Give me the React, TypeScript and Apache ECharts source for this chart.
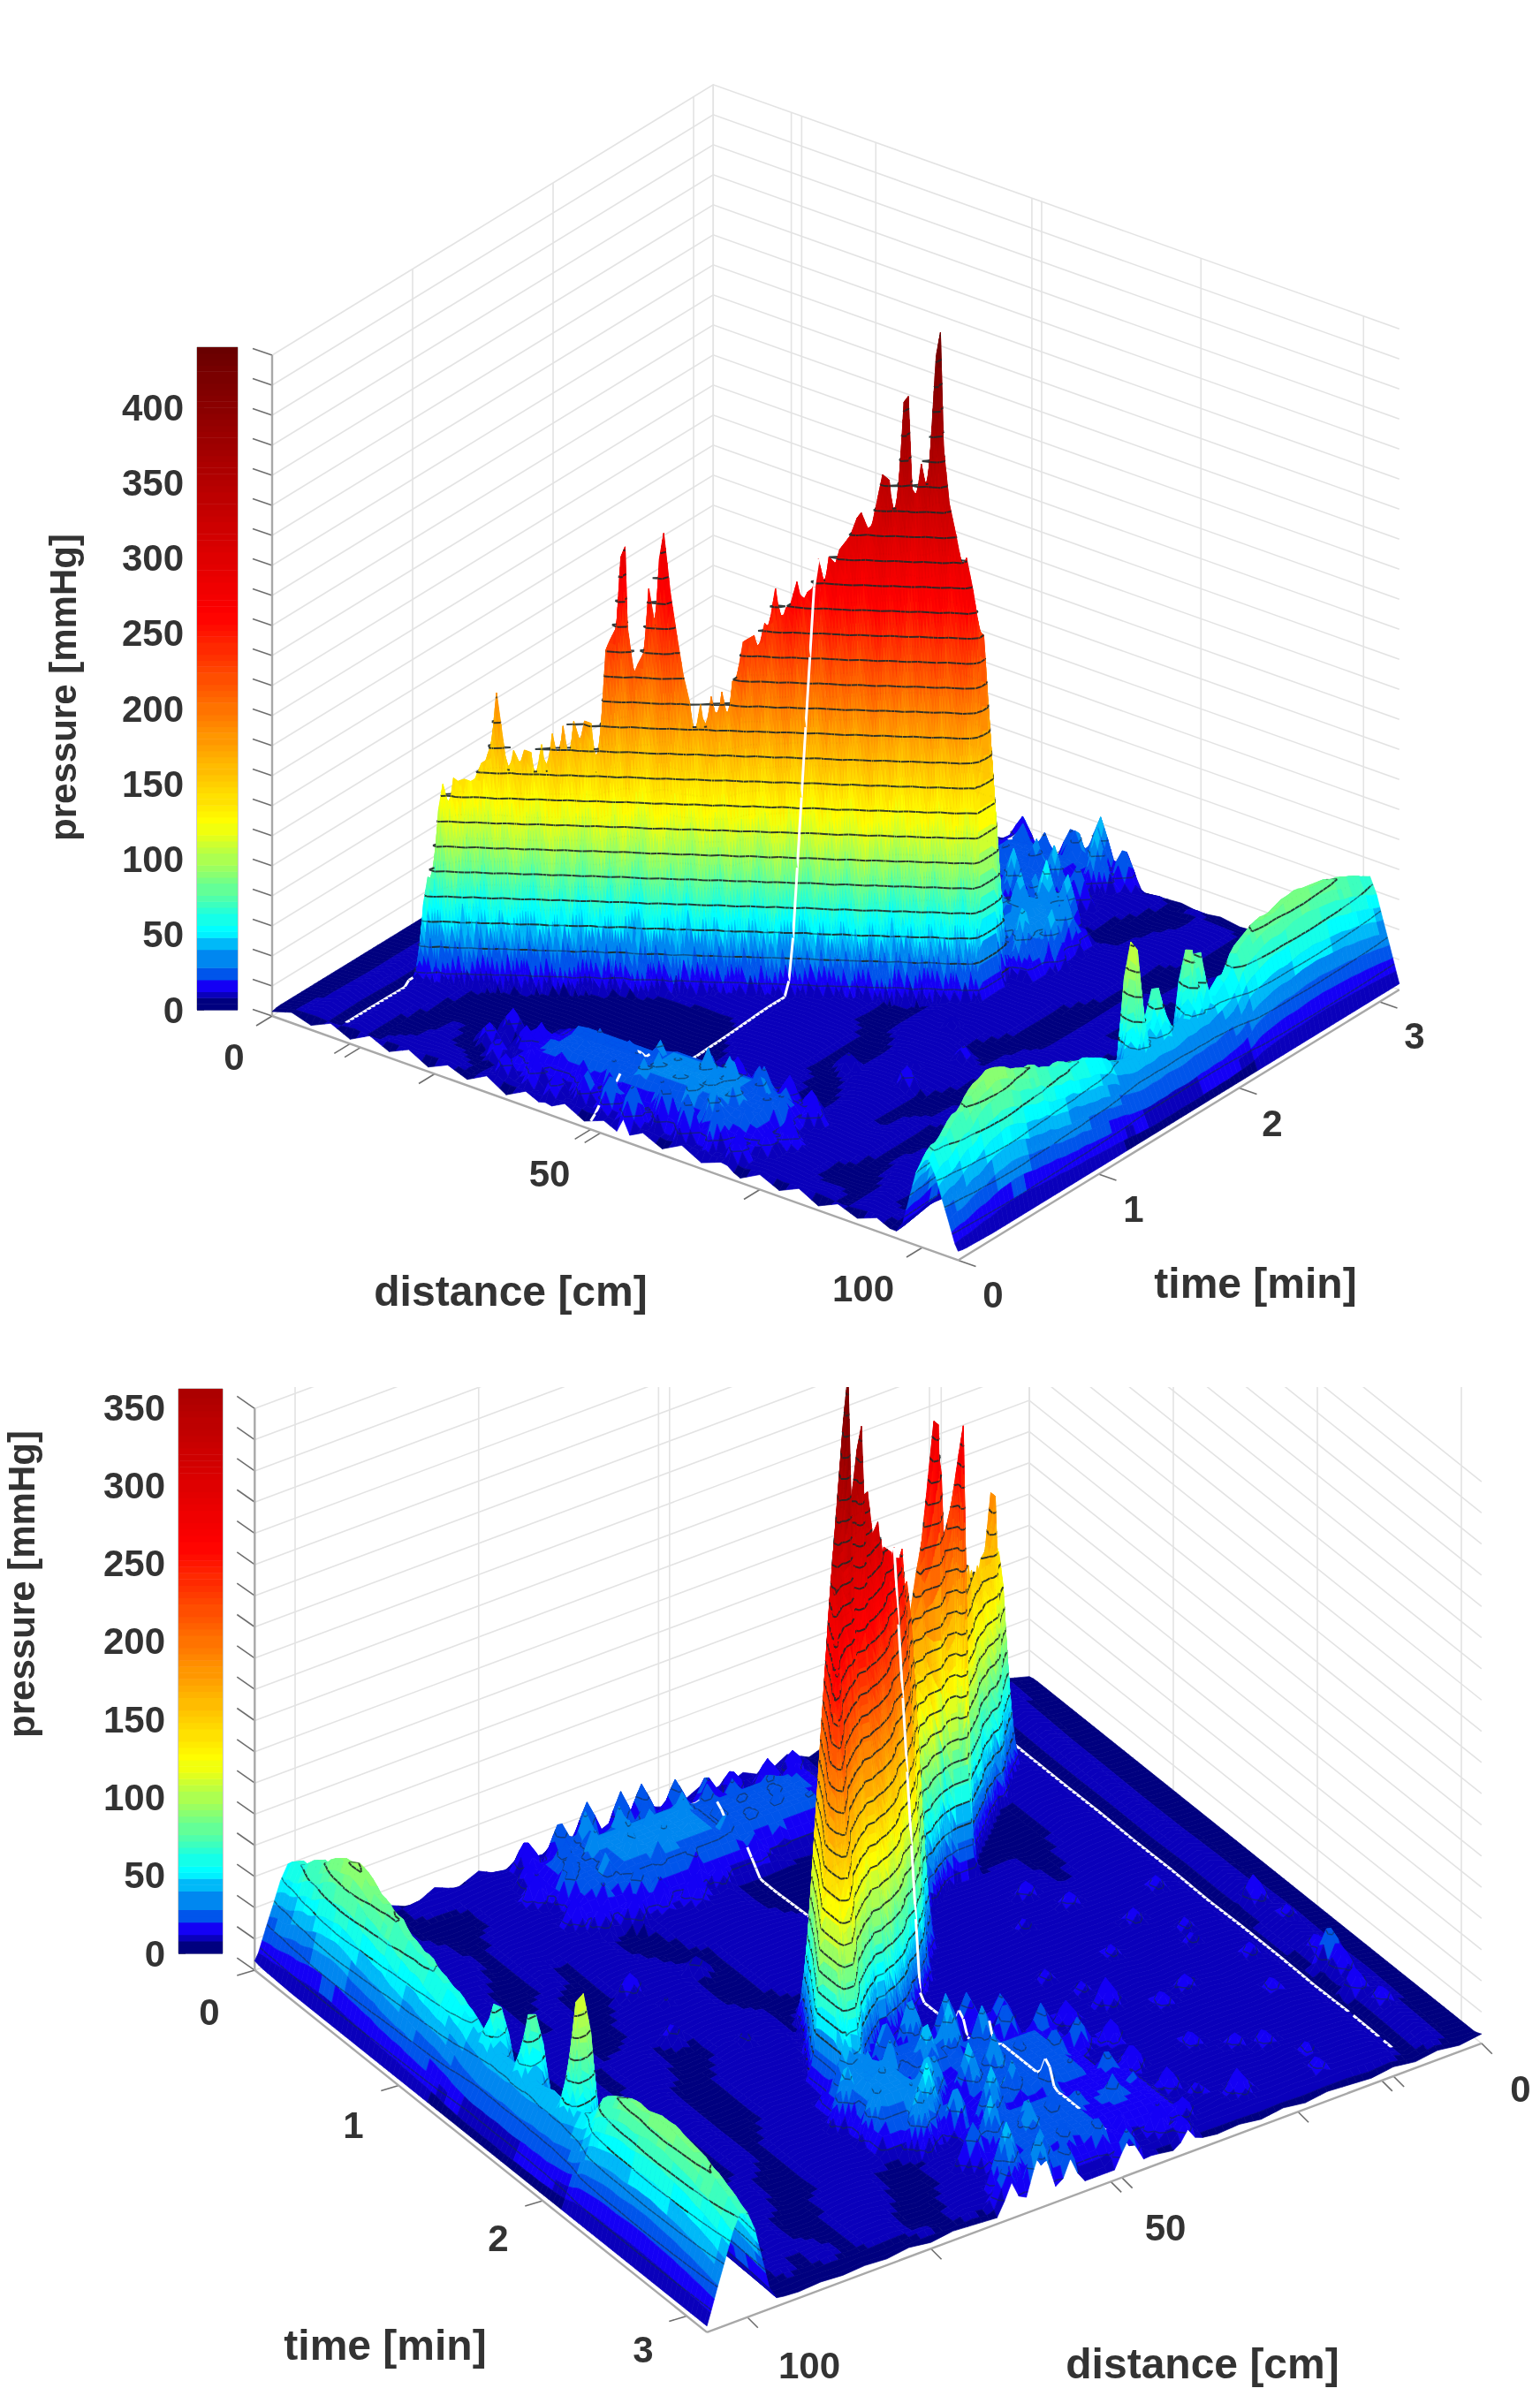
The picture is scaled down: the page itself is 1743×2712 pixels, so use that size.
import React, { useEffect, useRef } from "react";
import * as echarts from "echarts";

// ---------- values ----------
const distanceEnd = 105.5;
const timeEnd = 3.14;
const zTickStep = 20;
const distanceTicks = [0, 12, 13.6, 25, 49, 50.5, 75, 100];
const timeTicks = [0, 1, 2, 3];
const sensorDistances = [10, 49];
const sensorFromTime = [0.06, 0];
const sensorToTime = [3.02, 3.03];
const sensorGapsNear = [[2.74, 2.77], [2.93, 2.96]];
const sensorGapsFar = [[0.05, 0.15], [0.2, 0.33], [0.42, 0.55], [2.86, 2.97]];

// main contraction wall: one value per cm from wallFirstDistance
const wallFirstDistance = 10;
const wallPeak = [10, 75, 135, 139, 138, 138, 150, 195, 165, 158, 158, 158, 163, 170, 175, 178, 178, 178, 230, 290, 240, 215, 265, 300, 262, 235, 210, 193, 192, 197, 200, 207, 233, 237, 245, 268, 255, 272, 265, 287, 288, 293, 302, 317, 308, 342, 340, 392, 335, 350, 434, 365, 325, 306, 290, 270, 244, 130, 30];
const wallFootFront = [0.51, 0.53, 0.55, 0.58, 0.6, 0.62, 0.65, 0.67, 0.69, 0.72, 0.74, 0.76, 0.79, 0.81, 0.83, 0.86, 0.88, 0.9, 0.93, 0.95, 0.97, 1, 1.02, 1.04, 1.06, 1.09, 1.11, 1.13, 1.16, 1.18, 1.2, 1.23, 1.25, 1.27, 1.3, 1.32, 1.34, 1.37, 1.39, 1.41, 1.44, 1.46, 1.48, 1.5, 1.53, 1.55, 1.57, 1.6, 1.62, 1.64, 1.67, 1.69, 1.71, 1.74, 1.76, 1.78, 1.81, 1.83, 1.85];
const wallFootRear = [0.24, 0.265, 0.29, 0.33, 0.36, 0.4, 0.43, 0.47, 0.5, 0.52, 0.55, 0.57, 0.6, 0.63, 0.66, 0.69, 0.72, 0.75, 0.78, 0.81, 0.81, 0.82, 0.82, 0.82, 0.85, 0.88, 0.91, 0.93, 0.97, 1, 1.04, 1.07, 1.11, 1.14, 1.18, 1.21, 1.25, 1.29, 1.32, 1.36, 1.38, 1.39, 1.41, 1.42, 1.43, 1.44, 1.45, 1.46, 1.47, 1.49, 1.5, 1.54, 1.58, 1.65, 1.72, 1.78, 1.84, 1.9, 1.95];
const wallThickness = [0.06, 0.14, 0.2, 0.23, 0.23, 0.23, 0.23, 0.24, 0.24, 0.23, 0.23, 0.23, 0.23, 0.24, 0.24, 0.24, 0.24, 0.24, 0.25, 0.29, 0.29, 0.28, 0.29, 0.3, 0.29, 0.28, 0.28, 0.27, 0.27, 0.28, 0.28, 0.33, 0.35, 0.35, 0.36, 0.37, 0.39, 0.39, 0.39, 0.39, 0.39, 0.4, 0.42, 0.44, 0.45, 0.46, 0.46, 0.47, 0.46, 0.47, 0.48, 0.47, 0.46, 0.42, 0.4, 0.38, 0.36, 0.3, 0.2];
const wallSkirt = [0.05, 0.04, 0.06, 0.05, 0.06, 0.05, 0.06, 0.065, 0.05, 0.065, 0.055, 0.05, 0.06, 0.06, 0.05, 0.065, 0.055, 0.06, 0.05, 0.045, 0.06, 0.05, 0.045, 0.065, 0.055, 0.06, 0.05, 0.065, 0.055, 0.06, 0.05, 0.06, 0.065, 0.05, 0.06, 0.055, 0.05, 0.065, 0.06, 0.05, 0.06, 0.055, 0.065, 0.05, 0.06, 0.06, 0.05, 0.065, 0.055, 0.06, 0.05, 0.06, 0.065, 0.055, 0.05, 0.06, 0.06, 0.055, 0.04];
const wallStreak = [0, 6, -5, 3, 7, -4, 2, -7, 5, -2, 7, 1, -6, 4, 8, -3, 5, -8, 4, 6, -6, 8, -2, -9, 5, 7, -4, 3, -7, 6, 1, -5, 7, -3, 5, -8, 2, 8, -5, 3, -7, 7, -2, 5, -6, 3, 8, -4, 6, -8, 4, -3, 7, -5, 2, 6, -6, 4, 0];
const wallRiseSlope = 1500;
const crestRows = 0.03;

// ridge near the far end of the distance axis
const ridgeTimes = [0, 0.05, 0.1, 0.15, 0.2, 0.25, 0.3, 0.35, 0.4, 0.45, 0.5, 0.55, 0.6, 0.65, 0.7, 0.75, 0.8, 0.85, 0.9, 0.95, 1, 1.05, 1.1, 1.15, 1.2, 1.25, 1.3, 1.35, 1.4, 1.45, 1.5, 1.55, 1.6, 1.65, 1.7, 1.75, 1.8, 1.85, 1.9, 1.95, 2, 2.05, 2.1, 2.15, 2.2, 2.25, 2.3, 2.35, 2.4, 2.45, 2.5, 2.55, 2.6, 2.65, 2.7, 2.75, 2.8, 2.85, 2.9, 2.95, 3, 3.05, 3.1, 3.15];
const ridgePressure = [60, 66, 66, 72, 78, 78, 85, 90, 91, 94, 93, 90, 85, 84, 80, 80, 74, 73, 70, 71, 66, 65, 62, 62, 58, 56, 50, 48, 45, 44, 45, 44, 46, 45, 44, 45, 47, 46, 48, 47, 50, 52, 55, 62, 74, 77, 80, 83, 84, 83, 85, 87, 87, 88, 86, 85, 84, 83, 80, 79, 76, 74, 70, 68];
const ridgeSpikeTimeFront = [1.53, 1.68, 1.92, 1.98, 2.1, 2.28];
const ridgeSpikePressureFront = [123, 83, 96, 90, 62, 68];
const ridgeSpikeWidthFront = [0.04, 0.08, 0.04, 0.04, 0.07, 0.06];
const ridgeSpikeTimeRear = [1.38, 1.62, 1.95];
const ridgeSpikePressureRear = [76, 89, 127];
const ridgeSpikeWidthRear = [0.06, 0.06, 0.06];
const ridgeDistance = [94, 95, 96, 97, 98, 99, 100, 101, 102, 103, 104, 105, 105.5];
const ridgeShare = [0, 0.03, 0.08, 0.2, 0.5, 0.8, 0.98, 1, 0.85, 0.62, 0.4, 0.17, 0.03];
const ridgeSpikeDistance = [96, 97, 98, 99, 100, 101, 102];
const ridgeSpikeShare = [0, 0.35, 0.85, 1, 0.85, 0.3, 0];

// small peaks on the floor
const lumpDistance = [
  34, 38, 42, 46, 50, 54, 58, 62, 66, 70,
  30, 36, 40, 44, 48, 52, 56, 60, 64, 68, 72,
  27, 32, 37, 41, 45, 49, 53, 57, 61, 65, 69, 73,
  28, 33, 38, 42, 46, 50, 54, 58, 62, 66, 70,
  44, 48, 52, 56, 60, 64, 68, 72,
  54, 58, 62, 66, 70,
  44, 48, 52, 56, 60,
  38, 42, 46, 50, 54, 58, 62,
  36, 40, 44, 48, 52, 56, 60, 63,
  37, 41, 45, 49, 53, 57, 61,
  36, 40, 44, 48, 52, 56, 60, 63,
  38, 42, 46, 50, 54, 58, 62,
  40, 48, 56, 60, 64,
  65, 66, 67, 65, 67, 68, 70, 62, 64, 69, 66,
  6, 5, 6, 6, 7, 30, 32, 27, 25, 75, 73, 35,
  14, 17, 20, 23, 26, 29, 19, 15, 22, 33, 13, 16, 31, 27, 24, 6, 6, 6, 34, 20, 70, 76, 66,
];
const lumpTime = [
  0.09, 0.12, 0.08, 0.11, 0.1, 0.07, 0.12, 0.09, 0.11, 0.08,
  0.22, 0.19, 0.23, 0.18, 0.21, 0.24, 0.19, 0.22, 0.18, 0.23, 0.2,
  0.3, 0.33, 0.28, 0.32, 0.29, 0.34, 0.3, 0.27, 0.32, 0.29, 0.33, 0.3,
  0.42, 0.38, 0.43, 0.39, 0.41, 0.44, 0.38, 0.42, 0.4, 0.43, 0.39,
  0.5, 0.53, 0.49, 0.52, 0.48, 0.54, 0.5, 0.52,
  0.6, 0.63, 0.59, 0.62, 0.6,
  2.05, 2.02, 2.07, 2.03, 2.06,
  2.2, 2.23, 2.18, 2.22, 2.19, 2.24, 2.2,
  2.4, 2.37, 2.42, 2.38, 2.41, 2.44, 2.39, 2.42,
  2.6, 2.63, 2.58, 2.62, 2.59, 2.64, 2.6,
  2.8, 2.77, 2.82, 2.78, 2.81, 2.84, 2.79, 2.82,
  3, 3.03, 2.98, 3.02, 2.99, 3.04, 3,
  3.1, 3.12, 3.1, 3.12, 3.1,
  2.2, 2.35, 2.22, 2.5, 2.45, 2.2, 2.3, 2.45, 2.55, 2.45, 2.6,
  1.87, 2.05, 2.39, 2.47, 2.62, 2.98, 2.17, 2.3, 2.7, 1.05, 1.2, 1.9,
  1.6, 2, 1.75, 2.25, 1.9, 2.6, 2.9, 2.45, 2.75, 2.05, 2.2, 1.9, 1.55, 1.35, 1.5, 2.3, 1.9, 2.75, 2.9, 3.02, 1.6, 1.4, 1.05,
];
const lumpPressure = [
  22, 26, 24, 30, 34, 36, 40, 38, 36, 28,
  20, 26, 30, 28, 34, 38, 36, 44, 42, 34, 26,
  20, 24, 28, 32, 30, 36, 40, 38, 46, 44, 36, 28,
  24, 26, 30, 34, 32, 38, 36, 44, 48, 40, 34,
  24, 28, 26, 34, 38, 34, 30, 28,
  22, 26, 30, 28, 24,
  30, 36, 44, 48, 42,
  26, 34, 38, 44, 50, 52, 44,
  24, 30, 36, 34, 46, 50, 46, 38,
  26, 32, 28, 40, 44, 48, 42,
  24, 26, 34, 30, 38, 44, 46, 36,
  22, 28, 26, 34, 36, 42, 48,
  22, 28, 36, 46, 34,
  42, 46, 40, 44, 36, 55, 50, 54, 56, 48, 50,
  26, 18, 32, 26, 24, 26, 28, 20, 18, 22, 14, 18,
  19, 18, 20, 19, 18, 20, 18, 19, 20, 18, 19, 18, 18, 19, 18, 20, 19, 20, 18, 19, 17, 18, 17,
];
const plateDistance = [45, 58, 66, 38, 50, 54, 44, 58, 66];
const plateTime = [0.35, 0.35, 0.35, 0.3, 2.45, 2.85, 2.8, 2.2, 2.35];
const plateDistanceWidth = [16, 16, 8, 8, 14, 12, 10, 6, 6];
const plateTimeWidth = [0.28, 0.32, 0.3, 0.25, 0.4, 0.35, 0.35, 0.2, 0.3];
const platePressure = [26, 30, 26, 20, 24, 24, 20, 28, 36];

// floor level, one row per floorTimes entry and one column per 3 cm
const floorTimes = [0, 0.04, 0.25, 0.5, 0.75, 1, 1.25, 1.5, 1.75, 2, 2.25, 2.5, 2.75, 3, 3.1, 3.14];
const floorRow00 = [3, 7, 3, 9, 3, 10, 4, 10, 3, 9, 4, 11, 3, 10, 4, 11, 4, 9, 3, 10, 4, 11, 4, 9, 3, 10, 4, 10, 3, 9, 4, 9, 3, 9, 3, 6];
const floorRow01 = [4, 7, 9, 6, 10, 6, 9, 7, 10, 9, 6, 10, 9, 7, 10, 10, 9, 10, 9, 10, 9, 10, 9, 10, 9, 10, 9, 9, 10, 6, 9, 9, 5, 9, 6, 5];
const floorRow02 = [4, 6, 11, 6, 10, 6, 5, 9, 6, 5, 5, 6, 5, 9, 6, 10, 9, 10, 9, 10, 11, 10, 9, 10, 9, 10, 9, 5, 5, 6, 10, 5, 9, 10, 6, 4];
const floorRow03 = [4, 5, 10, 5, 11, 9, 5, 5, 6, 5, 5, 6, 5, 5, 6, 9, 6, 5, 9, 10, 10, 9, 5, 6, 9, 11, 10, 10, 5, 10, 9, 6, 5, 9, 6, 4];
const floorRow04 = [4, 5, 10, 5, 11, 10, 6, 5, 5, 5, 6, 5, 5, 5, 6, 5, 6, 5, 9, 10, 9, 10, 5, 5, 10, 10, 6, 10, 5, 6, 9, 5, 6, 10, 6, 4];
const floorRow05 = [4, 5, 9, 6, 10, 11, 6, 5, 6, 5, 6, 6, 5, 6, 5, 5, 6, 9, 10, 10, 9, 5, 6, 10, 11, 10, 5, 5, 10, 5, 9, 6, 5, 9, 5, 4];
const floorRow06 = [4, 5, 10, 5, 11, 10, 9, 5, 10, 10, 9, 10, 10, 9, 10, 9, 9, 9, 10, 9, 10, 5, 5, 10, 9, 10, 10, 6, 5, 10, 9, 5, 6, 9, 5, 4];
const floorRow07 = [4, 6, 11, 6, 10, 11, 10, 10, 11, 10, 11, 10, 10, 9, 10, 10, 9, 9, 10, 9, 5, 6, 10, 9, 10, 5, 5, 10, 9, 5, 10, 6, 5, 9, 5, 4];
const floorRow08 = [4, 6, 12, 5, 10, 11, 10, 11, 10, 11, 10, 11, 10, 10, 10, 9, 11, 10, 10, 9, 5, 5, 10, 9, 10, 9, 6, 5, 10, 9, 5, 5, 10, 9, 5, 4];
const floorRow09 = [4, 7, 12, 6, 10, 11, 11, 11, 10, 12, 11, 11, 10, 11, 10, 11, 11, 10, 10, 9, 10, 5, 6, 10, 9, 10, 5, 5, 9, 6, 10, 5, 5, 10, 5, 4];
const floorRow10 = [4, 6, 12, 6, 10, 11, 10, 12, 11, 12, 11, 10, 11, 12, 11, 11, 11, 11, 10, 10, 9, 9, 5, 5, 10, 9, 10, 5, 10, 5, 5, 9, 6, 9, 5, 4];
const floorRow11 = [4, 7, 12, 5, 10, 12, 11, 11, 12, 11, 12, 10, 11, 12, 10, 11, 12, 11, 12, 10, 10, 9, 5, 6, 9, 10, 9, 5, 5, 10, 6, 5, 9, 9, 5, 4];
const floorRow12 = [4, 6, 12, 6, 10, 11, 11, 12, 10, 12, 12, 11, 10, 11, 12, 11, 11, 11, 11, 10, 10, 9, 10, 5, 5, 9, 10, 9, 5, 5, 10, 5, 5, 10, 5, 4];
const floorRow13 = [4, 5, 11, 5, 10, 11, 11, 12, 11, 11, 11, 12, 10, 11, 10, 12, 11, 10, 9, 9, 10, 9, 10, 9, 5, 5, 9, 9, 6, 9, 6, 9, 5, 9, 5, 4];
const floorRow14 = [4, 5, 9, 5, 9, 9, 10, 9, 10, 9, 10, 9, 10, 9, 10, 9, 9, 9, 9, 9, 9, 9, 6, 9, 6, 9, 6, 5, 6, 5, 6, 5, 5, 6, 5, 4];
const floorRow15 = [6, 4, 6, 4, 6, 4, 5, 6, 4, 6, 4, 6, 5, 7, 5, 7, 5, 6, 4, 5, 4, 5, 4, 5, 6, 4, 6, 4, 5, 4, 5, 4, 5, 4, 5, 4];
const floorRows = [floorRow00, floorRow01, floorRow02, floorRow03, floorRow04, floorRow05, floorRow06, floorRow07, floorRow08, floorRow09, floorRow10, floorRow11, floorRow12, floorRow13, floorRow14, floorRow15];

// colour scale, shared by both panels
const scaleStops = [48, 55, 70, 88, 124, 190, 262, 362, 440];
const scaleRed = [0, 0, 60, 130, 255, 255, 255, 170, 105];
const scaleGreen = [235, 255, 255, 255, 255, 133, 0, 0, 0];
const scaleBlue = [255, 255, 190, 120, 0, 0, 0, 0, 0];
const lowBandEdge = [7, 13, 21, 30, 40, 48];
const lowBandColour = ["#00007f", "#0a00bb", "#1400f5", "#0055eb", "#0087f0", "#00b9f8"];

// ---------- panels ----------
const panelFront = {
  origin: [308, 1150], dVec: [7.36, 2.62], tVec: [159, -97.5], zUnit: 1.7, zTop: 440, contourStep: 16,
  clipTop: 0, clipBottom: 1530, foot: wallFootFront, nearLowTime: true, wallAtT: timeEnd, wallAtD: 0,
  spikeTime: ridgeSpikeTimeFront, spikePressure: ridgeSpikePressureFront, spikeWidth: ridgeSpikeWidthFront,
  axisT: 0, axisD: distanceEnd, zAt: [0, 0], zTickDir: [-22, -7.5], dTickDir: [-18, 11], tTickDir: [20, 7],
  bar: { left: 223, top: 393, width: 46, height: 750, max: 440 },
};
const panelRear = {
  origin: [1165, 1903], dVec: [-8.31, 3.1], tVec: [163, 130.5], zUnit: 1.766, zTop: 360, contourStep: 13.2,
  clipTop: 1570, clipBottom: 2712, foot: wallFootRear, nearLowTime: false, wallAtT: 0, wallAtD: 0,
  spikeTime: ridgeSpikeTimeRear, spikePressure: ridgeSpikePressureRear, spikeWidth: ridgeSpikeWidthRear,
  axisT: timeEnd, axisD: distanceEnd, zAt: [distanceEnd, 0], zTickDir: [-20, -14], dTickDir: [12, 12], tTickDir: [-20, 6],
  bar: { left: 202, top: 1572, width: 50, height: 639, max: 362 },
};
const captionFont = 'bold 48px "Liberation Sans"';
const numberFont = 'bold 42px "Liberation Sans"';
const captions: [string, number, number, string, number][] = [
  ["0", 265, 1196, numberFont, 0], ["50", 622, 1328, numberFont, 0], ["100", 977, 1458, numberFont, 0],
  ["distance [cm]", 578, 1461, captionFont, 0], ["0", 1124, 1465, numberFont, 0], ["1", 1283, 1368, numberFont, 0],
  ["2", 1440, 1271, numberFont, 0], ["3", 1601, 1172, numberFont, 0], ["time [min]", 1421, 1452, captionFont, 0],
  ["pressure [mmHg]", 71, 778, numberFont, 90],
  ["0", 237, 2277, numberFont, 0], ["1", 400, 2405, numberFont, 0], ["2", 564, 2533, numberFont, 0], ["3", 728, 2659, numberFont, 0],
  ["time [min]", 436, 2654, captionFont, 0], ["100", 916, 2677, numberFont, 0], ["50", 1319, 2521, numberFont, 0],
  ["0", 1721, 2364, numberFont, 0], ["distance [cm]", 1361, 2675, captionFont, 0], ["pressure [mmHg]", 24, 1793, numberFont, 90],
];

// ---------- helpers ----------
const colourMemo = new Map<number, string>();
function colourOf(z: number): string {
  for (let i = 0; i < lowBandEdge.length; i++) if (z < lowBandEdge[i]) return lowBandColour[i];
  const key = Math.round(z / 5);
  const hit = colourMemo.get(key);
  if (hit) return hit;
  const v = Math.min(440, key * 5);
  let k = 0;
  while (k < scaleStops.length - 2 && v > scaleStops[k + 1]) k++;
  const f = Math.max(0, Math.min(1, (v - scaleStops[k]) / (scaleStops[k + 1] - scaleStops[k])));
  const mix = (a: number[]) => Math.round(a[k] + (a[k + 1] - a[k]) * f);
  const c = `rgb(${mix(scaleRed)},${mix(scaleGreen)},${mix(scaleBlue)})`;
  colourMemo.set(key, c);
  return c;
}

function lookup(xs: number[], ys: number[], x: number): number {
  if (x <= xs[0]) return ys[0];
  for (let i = 1; i < xs.length; i++) {
    if (x <= xs[i]) return ys[i - 1] + ((ys[i] - ys[i - 1]) * (x - xs[i - 1])) / (xs[i] - xs[i - 1]);
  }
  return ys[ys.length - 1];
}
function floorAt(d: number, t: number): number {
  let r = 0;
  while (r < floorTimes.length - 2 && t > floorTimes[r + 1]) r++;
  const fr = Math.min(1, (t - floorTimes[r]) / (floorTimes[r + 1] - floorTimes[r]));
  const c = Math.min(34, Math.floor(d / 3));
  const fc = Math.min(1, (d - c * 3) / 3);
  const a = floorRows[r], b = floorRows[r + 1];
  return (a[c] * (1 - fc) + a[c + 1] * fc) * (1 - fr) + (b[c] * (1 - fc) + b[c + 1] * fc) * fr;
}
function sharedSurface(d: number, t: number): number {
  let z = floorAt(d, t);
  for (let i = 0; i < plateDistance.length; i++) {
    const u = Math.abs(d - plateDistance[i]) / plateDistanceWidth[i], v = Math.abs(t - plateTime[i]) / plateTimeWidth[i];
    const r = Math.max(u, v);
    if (r < 1) z = Math.max(z, platePressure[i] * Math.min(1, 1.6 * (1 - r)));
  }
  for (let i = 0; i < lumpDistance.length; i++) {
    const u = Math.abs(d - lumpDistance[i]) / 3, v = Math.abs(t - lumpTime[i]) / 0.1;
    const r = u + v;
    if (r < 1) z = Math.max(z, lumpPressure[i] * Math.pow(1 - r, 0.75));
  }
  if (d >= ridgeDistance[0]) {
    z = Math.max(z, lookup(ridgeTimes, ridgePressure, t) * lookup(ridgeDistance, ridgeShare, d));
  }
  return z;
}
function ridgeSpikeAt(p: P, d: number, t: number): number {
  const share = lookup(ridgeSpikeDistance, ridgeSpikeShare, d);
  if (share <= 0 || d < ridgeSpikeDistance[0] || d > ridgeSpikeDistance[ridgeSpikeDistance.length - 1]) return 0;
  const top = lookup(ridgeTimes, ridgePressure, t);
  let spike = top;
  for (let i = 0; i < p.spikeTime.length; i++) {
    const r = Math.abs(t - p.spikeTime[i]) / p.spikeWidth[i];
    if (r < 1) spike = Math.max(spike, top + (p.spikePressure[i] - top) * (1 - r));
  }
  return top * lookup(ridgeDistance, ridgeShare, d) + (spike - top) * share;
}
function wallAt(d: number, t: number, foot: number[]): number {
  const i = d - wallFirstDistance;
  if (i < 0 || i >= wallPeak.length || i !== Math.floor(i)) return 0;
  const peak = wallPeak[i], f = foot[i];
  const peakTime = f + peak / wallRiseSlope;
  const backEnd = f + wallThickness[i];
  if (t >= backEnd && t > peakTime + crestRows) return 0;
  if (t > peakTime) {
    if (t <= peakTime + crestRows) return peak;
    return Math.min(peak, wallRiseSlope * (backEnd - t));
  }
  const t45 = f + 45 / wallRiseSlope;
  if (t >= t45) return wallRiseSlope * (t - f);
  const z = 45 * (1 - (t45 - t) / wallSkirt[i]);
  return Math.max(0, Math.min(peak, z));
}

const distanceColumns: number[] = [];
for (let d = 0; d <= 105; d++) distanceColumns.push(d);
distanceColumns.push(distanceEnd);
const timeRowsAll: number[] = [];
for (let r = 0; r * 0.03 < timeEnd - 0.005; r++) timeRowsAll.push(Math.round(r * 300) / 10000);
timeRowsAll.push(timeEnd);

const sharedHeights = timeRowsAll.map((t) => distanceColumns.map((d) => sharedSurface(d, t)));

type P = typeof panelFront;
function project(p: P, d: number, t: number, z: number): number[] {
  return [
    p.origin[0] + d * p.dVec[0] + t * p.tVec[0],
    p.origin[1] + d * p.dVec[1] + t * p.tVec[1] - z * p.zUnit,
  ];
}

function buildItems(p: P) {
  const H = timeRowsAll.map((t, r) => distanceColumns.map((d, c) => Math.max(sharedHeights[r][c], wallAt(d, t, p.foot), ridgeSpikeAt(p, d, t))));
  const items: any[] = [];
  const rows = timeRowsAll.slice(0, -1).map((_, r) => r);
  if (p.nearLowTime) rows.reverse();
  const sensorCols = sensorDistances.map((d) => distanceColumns.indexOf(d));
  const sensorGaps = [sensorGapsNear, sensorGapsFar];
  const step = p.contourStep;
  const pt = (r: number, c: number) => project(p, distanceColumns[c], timeRowsAll[r], H[r][c]);
  for (const r of rows) {
    let c = 0;
    while (c < distanceColumns.length - 1) {
      const flat = (k: number) => {
        const v = [H[r][k], H[r][k + 1], H[r + 1][k], H[r + 1][k + 1]];
        if (Math.max(...v) >= step) return null;
        const b = colourOf(v[0]);
        return v.every((x) => colourOf(x) === b) && !sensorCols.includes(k) ? b : null;
      };
      const b = flat(c);
      if (b) {
        let e = c;
        while (e + 1 < distanceColumns.length - 1 && flat(e + 1) === b) e++;
        const poly: number[][] = [];
        for (let k = c; k <= e + 1; k++) poly.push(pt(r, k));
        for (let k = e + 1; k >= c; k--) poly.push(pt(r + 1, k));
        items.push({ polys: [{ pts: poly, fill: b }], lines: "", white: null, soft: false, at: poly[0] });
        c = e + 1;
        continue;
      }
      const z00 = H[r][c], z01 = H[r][c + 1], z10 = H[r + 1][c], z11 = H[r + 1][c + 1];
      const rangeD = Math.max(Math.abs(z01 - z00), Math.abs(z11 - z10));
      const rangeT = Math.max(Math.abs(z10 - z00), Math.abs(z11 - z01));
      const nu = Math.max(1, Math.min(7, Math.ceil(rangeD / 12)));
      const nv = Math.max(1, Math.min(7, Math.ceil(rangeT / 12)));
      const a = pt(r, c), b1 = pt(r, c + 1), c1 = pt(r + 1, c), d1 = pt(r + 1, c + 1);
      const mix = (u: number, v: number) => [
        a[0] * (1 - u) * (1 - v) + b1[0] * u * (1 - v) + c1[0] * (1 - u) * v + d1[0] * u * v,
        a[1] * (1 - u) * (1 - v) + b1[1] * u * (1 - v) + c1[1] * (1 - u) * v + d1[1] * u * v,
      ];
      const zm = (u: number, v: number) => z00 * (1 - u) * (1 - v) + z01 * u * (1 - v) + z10 * (1 - u) * v + z11 * u * v;
      const wi = distanceColumns[c] - wallFirstDistance;
      const streakA = wi >= 0 && wi < wallStreak.length ? wallStreak[wi] : 0;
      const streakB = wi + 1 >= 0 && wi + 1 < wallStreak.length ? wallStreak[wi + 1] : 0;
      const polys: any[] = [];
      for (let i = 0; i < nu; i++) {
        for (let j = 0; j < nv; j++) {
          const u0 = i / nu, u1 = (i + 1) / nu, v0 = j / nv, v1 = (j + 1) / nv;
          const zc = zm((u0 + u1) / 2, (v0 + v1) / 2);
          const shade = zc > 45 ? (streakA + (streakB - streakA) * (u0 + u1) * 0.5) * 0.8 : 0;
          polys.push({
            pts: [mix(u0, v0), mix(u1, v0), mix(u1, v1), mix(u0, v1)],
            fill: colourOf(zc + shade),
          });
        }
      }
      // contour lines through this cell
      const lines: number[][][] = [];
      const tri = (A: number[], B: number[], C: number[], za: number, zb: number, zc: number) => {
        const lo = Math.min(za, zb, zc), hi = Math.max(za, zb, zc);
        for (let lev = Math.ceil(lo / step) * step; lev < hi; lev += step) {
          if (lev <= 0) continue;
          const cross: number[][] = [];
          const edge = (P1: number[], P2: number[], z1: number, z2: number) => {
            if ((z1 < lev) !== (z2 < lev)) {
              const f = (lev - z1) / (z2 - z1);
              cross.push([P1[0] + (P2[0] - P1[0]) * f, P1[1] + (P2[1] - P1[1]) * f]);
            }
          };
          edge(A, B, za, zb); edge(B, C, zb, zc); edge(C, A, zc, za);
          if (cross.length === 2) lines.push(cross);
        }
      };
      tri(a, b1, d1, z00, z01, z11);
      tri(a, d1, c1, z00, z11, z10);
      let white: number[][] | null = null;
      const s = sensorCols.indexOf(c);
      if (s >= 0) {
        const t0 = timeRowsAll[r], t1 = timeRowsAll[r + 1];
        const mid = (t0 + t1) / 2;
        const inGap = sensorGaps[s].some((g) => mid > g[0] && mid < g[1]);
        if (mid >= sensorFromTime[s] && mid <= sensorToTime[s] && !inGap) white = [a, c1];
      }
      items.push({ polys, lines, white, soft: Math.max(z00, z01, z10, z11) < 70, at: a });
      c++;
    }
  }
  return items;
}

function frameItems(p: P) {
  const out: any[] = [];
  const grid = "#e3e3e3", axis = "#a8a8a8", tick = "#6e6e6e";
  const wallCorner1 = p === panelFront ? [0, 0] : [distanceEnd, 0];
  const wallBack = p === panelFront ? [0, timeEnd] : [0, 0];
  const wallCorner2 = p === panelFront ? [distanceEnd, timeEnd] : [0, timeEnd];
  for (let z = 0; z <= p.zTop; z += zTickStep) {
    out.push({ pts: [project(p, wallCorner1[0], wallCorner1[1], z), project(p, wallBack[0], wallBack[1], z), project(p, wallCorner2[0], wallCorner2[1], z)], color: grid, w: 1.6 });
    const b = project(p, p.zAt[0], p.zAt[1], z);
    out.push({ pts: [b, [b[0] + p.zTickDir[0], b[1] + p.zTickDir[1]]], color: tick, w: 1.6 });
  }
  out.push({ pts: [project(p, wallBack[0], wallBack[1], 0), project(p, wallBack[0], wallBack[1], 440)], color: grid, w: 1.6 });
  for (const tv of timeTicks) {
    out.push({ pts: [project(p, 0, tv, 0), project(p, 0, tv, 440)], color: grid, w: 1.6 });
    const b = project(p, p.axisD, tv, 0);
    out.push({ pts: [b, [b[0] + p.tTickDir[0], b[1] + p.tTickDir[1]]], color: tick, w: 1.6 });
  }
  const wt = p.wallAtT;
  for (const dv of distanceTicks) {
    out.push({ pts: [project(p, dv, wt, 0), project(p, dv, wt, 440)], color: grid, w: 1.6 });
    const b = project(p, dv, p.axisT, 0);
    out.push({ pts: [b, [b[0] + p.dTickDir[0], b[1] + p.dTickDir[1]]], color: tick, w: 1.6 });
  }
  out.push({ pts: [project(p, p.zAt[0], p.zAt[1], 0), project(p, p.zAt[0], p.zAt[1], p.zTop)], color: axis, w: 2.4 });
  out.push({ pts: [project(p, 0, p.axisT, 0), project(p, distanceEnd, p.axisT, 0)], color: axis, w: 2.4 });
  out.push({ pts: [project(p, p.axisD, 0, 0), project(p, p.axisD, timeEnd, 0)], color: axis, w: 2.4 });
  return out;
}

function barLevels(max: number) {
  const levels: number[] = [];
  for (let z = 0; z < max; z += 4) levels.push(z);
  return levels;
}

function buildOption() {
  const panels = [panelFront, panelRear];
  const grids: any[] = [];
  const xAxes: any[] = [];
  const yAxes: any[] = [];
  const series: any[] = [];
  panels.forEach((p, idx) => {
    grids.push({ left: 0, top: p.clipTop, width: 1743, height: p.clipBottom - p.clipTop });
    xAxes.push({ type: "value", gridIndex: idx, min: 0, max: 1743, show: false });
    yAxes.push({ type: "value", gridIndex: idx, min: p.clipTop, max: p.clipBottom, inverse: true, show: false });
  });
  panels.forEach((p, idx) => {
    const g = idx + 2;
    grids.push({ left: p.bar.left, top: p.bar.top, width: p.bar.width, height: p.bar.height, show: true, borderColor: "#9a9a9a", borderWidth: 1, backgroundColor: "transparent" });
    xAxes.push({ type: "value", gridIndex: g, min: 0, max: 1, show: false });
    yAxes.push({
      type: "value", gridIndex: g, min: 0, max: p.bar.max, interval: 50,
      axisLine: { show: false }, splitLine: { show: false },
      axisTick: { show: true, inside: true, length: 8, lineStyle: { color: "#777" } },
      axisLabel: { show: true, showMaxLabel: false, margin: 15, fontFamily: "Liberation Sans", fontWeight: "bold", fontSize: 42, color: "#333" },
    });
    const levels = barLevels(p.bar.max);
    series.push({
      type: "custom", coordinateSystem: "cartesian2d", xAxisIndex: g, yAxisIndex: g, silent: true, animation: false, z: 5,
      data: levels.map((z) => [0, z]),
      renderItem: (_: any, api: any) => {
        const z = api.value(1);
        const a = api.coord([0, z]);
        const b = api.coord([1, Math.min(p.bar.max, z + 4)]);
        return { type: "rect", shape: { x: a[0], y: b[1], width: b[0] - a[0], height: a[1] - b[1] + 0.5 }, style: { fill: colourOf(z + 2) } };
      },
    });
  });
  panels.forEach((p, idx) => {
    const frame = frameItems(p);
    series.push({
      type: "custom", coordinateSystem: "cartesian2d", xAxisIndex: idx, yAxisIndex: idx, silent: true, clip: true, animation: false, z: 2,
      data: frame.map((f) => f.pts[0]),
      renderItem: (params: any, api: any) => {
        const f = frame[params.dataIndex];
        return { type: "polyline", shape: { points: f.pts.map((q: number[]) => api.coord(q)) }, style: { fill: "none", stroke: f.color, lineWidth: f.w } };
      },
    });
    const items = buildItems(p);
    series.push({
      type: "custom", coordinateSystem: "cartesian2d", xAxisIndex: idx, yAxisIndex: idx, silent: true, clip: true, animation: false, z: 3, progressive: 0,
      data: items.map((it) => it.at),
      renderItem: (params: any, api: any) => {
        const it = items[params.dataIndex];
        const children: any[] = it.polys.map((q: any) => ({
          type: "polygon",
          shape: { points: q.pts.map((v: number[]) => api.coord(v)) },
          style: { fill: q.fill, stroke: q.fill, lineWidth: 0.7 },
        }));
        if (it.lines && it.lines.length) {
          let d = "";
          for (const l of it.lines) {
            const a = api.coord(l[0]), b = api.coord(l[1]);
            d += `M${a[0].toFixed(1)} ${a[1].toFixed(1)}L${b[0].toFixed(1)} ${b[1].toFixed(1)}`;
          }
          children.push({ type: "path", shape: { pathData: d }, style: { fill: "none", stroke: it.soft ? "rgba(20,45,70,0.6)" : "rgba(30,40,40,0.9)", lineWidth: it.soft ? 1.5 : 2 } });
        }
        if (it.white) {
          children.push({ type: "polyline", shape: { points: it.white.map((v: number[]) => api.coord(v)) }, style: { fill: "none", stroke: "#fff", lineWidth: 3 } });
        }
        return children.length === 1 ? children[0] : { type: "group", children };
      },
    });
  });
  const graphic = captions.map(([text, x, y, font, rot]) => ({
    type: "text", x, y, rotation: rot ? (rot * Math.PI) / 180 : 0, z: 50,
    style: { text, font, fill: "#333", textAlign: "center", textVerticalAlign: "middle", align: "center", verticalAlign: "middle" },
  }));
  return { animation: false, backgroundColor: "#fff", grid: grids, xAxis: xAxes, yAxis: yAxes, series, graphic };
}

export default function App() {
  const ref = useRef<HTMLDivElement>(null);
  useEffect(() => {
    const chart = echarts.init(ref.current!, undefined, { renderer: "svg" });
    chart.setOption(buildOption() as any);
    return () => chart.dispose();
  }, []);
  return <div ref={ref} style={{ position: "absolute", left: 0, top: 0, width: 1743, height: 2712, background: "#fff", filter: "blur(0.7px)" }} />;
}
